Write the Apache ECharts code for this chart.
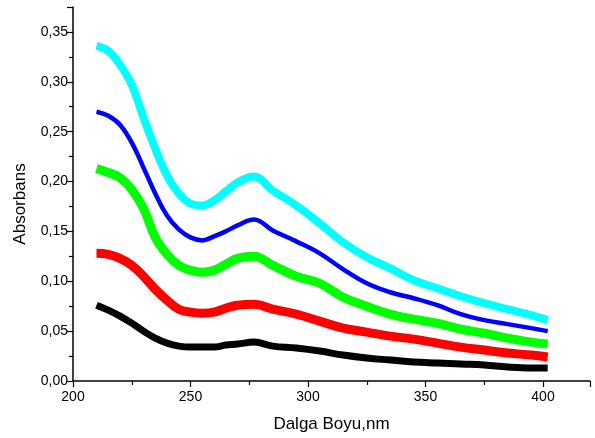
<!DOCTYPE html>
<html>
<head>
<meta charset="utf-8">
<script src="https://cdn.jsdelivr.net/npm/echarts@6/dist/echarts.min.js"></script>
<style>
  html, body { margin: 0; padding: 0; background: #fff; }
  #main { width: 595px; height: 438px; }
</style>
</head>
<body>
<div id="main"></div>
<script>
// wavelength (nm) shared by all curves
const wavelength = [210, 215, 220, 225, 230, 235, 240, 245, 250, 255, 260, 265, 270, 277, 285, 295,
  305, 315, 325, 335, 345, 355, 365, 375, 385, 395, 402];

const cyanVals = [0.336, 0.331, 0.317, 0.297, 0.264, 0.233, 0.206, 0.188, 0.178, 0.176, 0.181, 0.190, 0.199, 0.205, 0.191, 0.176,
  0.158, 0.139, 0.124, 0.113, 0.101, 0.093, 0.085, 0.078, 0.072, 0.066, 0.061];
const blueVals = [0.270, 0.266, 0.257, 0.239, 0.214, 0.188, 0.166, 0.152, 0.144, 0.141, 0.145, 0.150, 0.156, 0.162, 0.151, 0.140,
  0.128, 0.112, 0.098, 0.089, 0.083, 0.076, 0.067, 0.061, 0.057, 0.053, 0.050];
const greenVals = [0.213, 0.209, 0.204, 0.192, 0.173, 0.144, 0.127, 0.116, 0.111, 0.109, 0.111, 0.117, 0.123, 0.125, 0.116, 0.105,
  0.098, 0.084, 0.075, 0.067, 0.062, 0.058, 0.052, 0.048, 0.043, 0.039, 0.037];
const redVals = [0.128, 0.127, 0.123, 0.116, 0.105, 0.092, 0.081, 0.072, 0.069, 0.068, 0.069, 0.073, 0.076, 0.077, 0.072, 0.067,
  0.060, 0.053, 0.049, 0.045, 0.042, 0.038, 0.034, 0.031, 0.028, 0.026, 0.024];
const blackVals = [0.076, 0.071, 0.065, 0.058, 0.050, 0.043, 0.038, 0.035, 0.034, 0.034, 0.034, 0.036, 0.037, 0.039, 0.035, 0.033,
  0.030, 0.026, 0.023, 0.021, 0.019, 0.018, 0.017, 0.016, 0.014, 0.013, 0.013];

const xTicks = [200, 250, 300, 350, 400];
const yTicks = ['0,00', '0,05', '0,10', '0,15', '0,20', '0,25', '0,30', '0,35'];

const chart = echarts.init(document.getElementById('main'));

function pairs(vals) {
  return vals.map((v, i) => [wavelength[i], v]);
}

function curve(vals, color, width) {
  return {
    type: 'line',
    data: pairs(vals),
    smooth: 0.4,
    showSymbol: false,
    lineStyle: { color: color, width: width },
    itemStyle: { color: color },
    silent: true
  };
}

const axisFont = { fontFamily: '"Liberation Sans Narrow", "Liberation Sans", Arial, sans-serif', fontSize: 14, color: '#000' };
const nameFont = { fontFamily: '"Liberation Sans", Arial, sans-serif', fontSize: 17, color: '#000' };

const option = {
  animation: false,
  grid: { left: 73, right: 5, top: 7, bottom: 57 },
  xAxis: {
    type: 'value',
    min: 200,
    max: 420,
    interval: 50,
    name: 'Dalga Boyu,nm',
    nameLocation: 'middle',
    nameGap: 35,
    nameTextStyle: nameFont,
    axisLine: { lineStyle: { color: '#000', width: 1.5 } },
    axisTick: { length: 6, lineStyle: { color: '#000', width: 1.2 } },
    minorTick: { show: true, splitNumber: 2, length: 4, lineStyle: { color: '#000', width: 1.2 } },
    splitLine: { show: false },
    axisLabel: Object.assign({ margin: 9, formatter: v => (xTicks.includes(v) ? String(v) : '') }, axisFont)
  },
  yAxis: {
    type: 'value',
    min: 0,
    max: 0.375,
    interval: 0.05,
    name: 'Absorbans',
    nameLocation: 'middle',
    nameGap: 44,
    nameTextStyle: Object.assign({ padding: [0, 20, 0, 0] }, nameFont),
    axisLine: { show: true, lineStyle: { color: '#000', width: 1.5 } },
    axisTick: { show: true, length: 6, lineStyle: { color: '#000', width: 1.2 } },
    minorTick: { show: true, splitNumber: 2, length: 4, lineStyle: { color: '#000', width: 1.2 } },
    splitLine: { show: false },
    axisLabel: Object.assign({
      margin: 5,
      formatter: v => yTicks[Math.round(v / 0.05)] || ''
    }, axisFont)
  },
  series: [
    curve(cyanVals, '#00ffff', 8),
    curve(blueVals, '#0000ff', 4.5),
    curve(greenVals, '#00ff00', 9),
    curve(redVals, '#ff0000', 9),
    curve(blackVals, '#000000', 7)
  ]
};

chart.setOption(option);
</script>
</body>
</html>
